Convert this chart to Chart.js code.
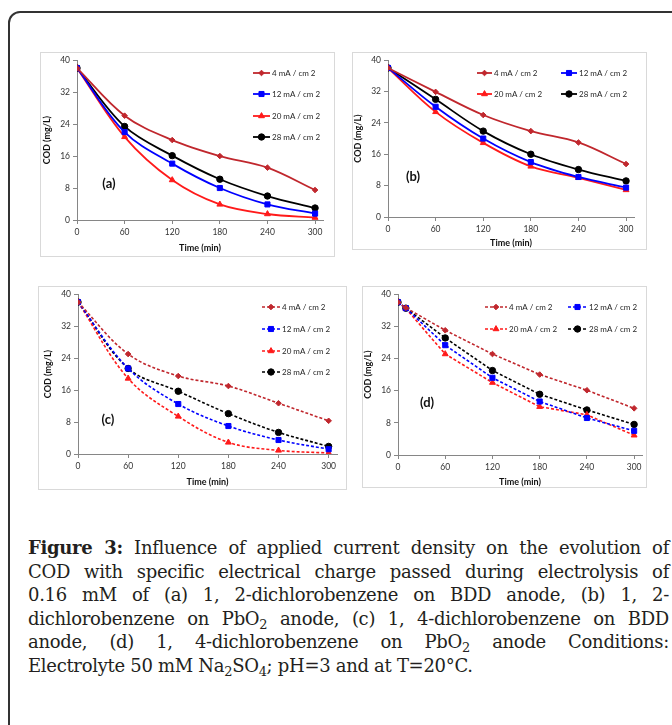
<!DOCTYPE html>
<html>
<head>
<meta charset="utf-8">
<script src="https://cdn.jsdelivr.net/npm/chart.js"></script>
<style>
  body { margin: 0; background: #fff; width: 672px; height: 725px; overflow: hidden; position: relative; }
  #frame { position: absolute; left: 8px; top: 11px; width: 720px; height: 760px; border: 2px solid #333; border-radius: 12px; }
  .box { position: absolute; border: 1px solid #d9d9d9; box-sizing: border-box; pointer-events: none; }
  canvas.plot { position: absolute; }
  #caption { position: absolute; left: 28px; top: 536px; width: 641px; font-family: "DejaVu Serif", serif; font-size: 18px; line-height: 23.5px; color: #231f20; letter-spacing: -0.3px; }
  #caption .j { text-align: justify; text-align-last: justify; white-space: nowrap; }
  #caption sub { font-size: 0.72em; vertical-align: -0.3em; line-height: 0; }
</style>
</head>
<body>
<div id="frame"></div>

<div id="caption">
  <div class="j"><b>Figure 3:</b> Influence of applied current density on the evolution of</div>
  <div class="j">COD with specific electrical charge passed during electrolysis of</div>
  <div class="j">0.16 mM of (a) 1, 2-dichlorobenzene on BDD anode, (b) 1, 2-</div>
  <div class="j">dichlorobenzene on PbO<sub>2</sub> anode, (c) 1, 4-dichlorobenzene on BDD</div>
  <div class="j">anode, (d) 1, 4-dichlorobenzene on PbO<sub>2</sub> anode Conditions:</div>
  <div>Electrolyte 50 mM Na<sub>2</sub>SO<sub>4</sub>; pH=3 and at T=20°C.</div>
</div>

<script>
// ---- data ----
const times = [0, 60, 120, 180, 240, 300];
const timesD = [0, 10, 60, 120, 180, 240, 300];
const xTicks = [0, 60, 120, 180, 240, 300];
const yTicks = [0, 8, 16, 24, 32, 40];
const seriesLabels = ['4 mA / cm 2', '12 mA / cm 2', '20 mA / cm 2', '28 mA / cm 2'];

// (a) 1,2-dichlorobenzene, BDD
const codA_4  = [38, 26.1, 20.0, 16.0, 13.1, 7.5];
const codA_12 = [38, 22.0, 14.1, 8.0, 3.9, 1.6];
const codA_20 = [38, 20.8, 10.0, 3.9, 1.5, 0.6];
const codA_28 = [38, 23.4, 16.1, 10.2, 6.0, 3.0];

// (b) 1,2-dichlorobenzene, PbO2
const codB_4  = [38, 31.9, 26.0, 21.9, 19.0, 13.5];
const codB_12 = [38, 28.1, 20.0, 14.0, 10.2, 7.5];
const codB_20 = [38, 26.8, 18.9, 12.9, 10.0, 6.9];
const codB_28 = [38, 30.0, 21.9, 16.0, 12.1, 9.2];

// (c) 1,4-dichlorobenzene, BDD
const codC_4  = [38, 25.0, 19.5, 17.0, 12.7, 8.3];
const codC_12 = [38, 21.4, 12.5, 7.0, 3.5, 1.2];
const codC_20 = [38, 18.9, 9.4, 2.9, 0.9, 0.25];
const codC_28 = [38, 21.4, 15.7, 10.1, 5.4, 1.9];

// (d) 1,4-dichlorobenzene, PbO2
const codD_4  = [38, 36.6, 31.0, 25.1, 20.0, 16.1, 11.6];
const codD_12 = [38, 36.5, 27.3, 19.2, 13.3, 9.2, 6.0];
const codD_20 = [38, 36.4, 25.1, 18.0, 12.0, 10.0, 4.9];
const codD_28 = [38, 36.5, 29.1, 21.0, 15.1, 11.2, 7.6];

// ---- styles ----
const seriesStyle = [
  { color: '#c0272d', point: 'rectRot', r: 2.8 },
  { color: '#0000ff', point: 'rect', r: 3.6 },
  { color: '#ff1a1a', point: 'triangle', r: 3.4 },
  { color: '#000000', point: 'circle', r: 3.2 }
];
const FONT = 'Lato, "Liberation Sans", sans-serif';

// panel layout in page pixels
const panels = [
  { tag: '(a)', x: times, ys: [codA_4, codA_12, codA_20, codA_28], dashed: false, tension: 0.35,
    box: { l: 40, t: 52, r: 335, b: 257 }, area: { l: 77, t: 57, r: 323, b: 220 },
    xTitlePad: 4, yTitlePad: 1.5, tagAt: [109, 184],
    legend: [[253, 270, 73], [253, 270, 94], [253, 270, 116], [253, 270, 137]] },
  { tag: '(b)', x: times, ys: [codB_4, codB_12, codB_20, codB_28], dashed: false, tension: 0.35,
    box: { l: 352, t: 52, r: 647, b: 250 }, area: { l: 388, t: 57, r: 634, b: 217 },
    xTitlePad: 1.5, yTitlePad: 0.5, tagAt: [413, 177],
    legend: [[477, 492, 73], [561, 577, 73], [477, 492, 94], [561, 577, 94]] },
  { tag: '(c)', x: times, ys: [codC_4, codC_12, codC_20, codC_28], dashed: true, tension: 0.35,
    box: { l: 38, t: 286, r: 347, b: 490 }, area: { l: 78, t: 292, r: 337, b: 454 },
    xTitlePad: 2.5, yTitlePad: 4.5, tagAt: [108, 420],
    legend: [[262, 280, 307], [262, 280, 329], [262, 280, 351], [262, 280, 372]] },
  { tag: '(d)', x: timesD, ys: [codD_4, codD_12, codD_20, codD_28], dashed: true, tension: 0,
    box: { l: 362, t: 286, r: 647, b: 488 }, area: { l: 398, t: 292, r: 645, b: 455 },
    xTitlePad: 0.5, yTitlePad: 0.5, tagAt: [427, 403],
    legend: [[485, 507, 307], [568, 587, 307], [485, 507, 329], [568, 587, 329]] }
];

// legend + panel tag drawn inside the canvas
const decoPlugin = {
  id: 'deco',
  afterDatasetsDraw(chart, args, opts) {
    const ctx = chart.ctx;
    ctx.save();
    (opts.legend || []).forEach((it, i) => {
      const ds = chart.data.datasets[i];
      ctx.strokeStyle = ds.borderColor;
      ctx.lineWidth = ds.borderWidth;
      ctx.setLineDash(ds.borderDash || []);
      ctx.beginPath();
      ctx.moveTo(it[0], it[2]);
      ctx.lineTo(it[1], it[2]);
      ctx.stroke();
      ctx.setLineDash([]);
      ctx.fillStyle = ds.pointBackgroundColor;
      ctx.strokeStyle = ds.pointBorderColor;
      ctx.lineWidth = 1;
      Chart.helpers.drawPoint(ctx, { pointStyle: ds.pointStyle, radius: ds.pointRadius, borderWidth: 1, rotation: 0 },
        (it[0] + it[1]) / 2, it[2]);
      ctx.fillStyle = '#262626';
      ctx.font = '8px ' + FONT;
      ctx.textAlign = 'left';
      ctx.textBaseline = 'middle';
      ctx.fillText(ds.label, it[1] + 2, it[2] + 0.5);
    });
    if (opts.tag) {
      ctx.fillStyle = '#111';
      ctx.font = 'bold 13px ' + FONT;
      ctx.textAlign = 'center';
      ctx.textBaseline = 'middle';
      ctx.fillText(opts.tag, opts.tagAt[0], opts.tagAt[1]);
    }
    ctx.restore();
  }
};

panels.forEach((p, k) => {
  const w = p.box.r - p.box.l, h = p.box.b - p.box.t;
  const cv = document.createElement('canvas');
  cv.className = 'plot';
  cv.style.left = p.box.l + 'px';
  cv.style.top = p.box.t + 'px';
  cv.style.width = w + 'px';
  cv.style.height = h + 'px';
  cv.width = w; cv.height = h;
  document.body.appendChild(cv);
  const border = document.createElement('div');
  border.className = 'box';
  border.style.left = p.box.l + 'px';
  border.style.top = p.box.t + 'px';
  border.style.width = w + 'px';
  border.style.height = h + 'px';
  document.body.appendChild(border);

  const datasets = p.ys.map((vals, i) => {
    const s = seriesStyle[i];
    return {
      label: seriesLabels[i],
      data: p.x.map((t, j) => ({ x: t, y: vals[j] })),
      borderColor: s.color,
      backgroundColor: s.color,
      pointBackgroundColor: s.color,
      pointBorderColor: s.color,
      pointStyle: s.point,
      pointRadius: s.r,
      pointBorderWidth: 1,
      borderWidth: p.dashed ? 1.6 : 1.8,
      borderDash: p.dashed ? [3, 2] : [],
      tension: p.tension,
      fill: false
    };
  });

  const axisCol = '#868686';
  new Chart(cv, {
    type: 'line',
    data: { datasets },
    plugins: [decoPlugin],
    options: {
      responsive: false,
      animation: false,
      devicePixelRatio: 1,
      layout: { padding: { top: p.area.t - p.box.t, right: p.box.r - p.area.r, left: 0, bottom: 0 } },
      plugins: {
        legend: { display: false },
        tooltip: { enabled: false },
        deco: {
          tag: p.tag,
          tagAt: [p.tagAt[0] - p.box.l, p.tagAt[1] - p.box.t],
          legend: p.legend.map(l => [l[0] - p.box.l, l[1] - p.box.l, l[2] - p.box.t])
        }
      },
      scales: {
        x: {
          type: 'linear', min: 0, max: 310,
          afterBuildTicks: sc => { sc.ticks = xTicks.map(v => ({ value: v })); },
          afterFit: sc => { sc.height = p.box.b - p.area.b; },
          grid: { drawOnChartArea: false, drawTicks: true, tickLength: 4, color: axisCol },
          border: { color: axisCol, width: 1 },
          ticks: { color: '#333', font: { family: FONT, size: 8.5 }, padding: 3, maxRotation: 0, autoSkip: false },
          title: { display: true, text: 'Time (min)', color: '#111', font: { family: FONT, size: 9, weight: 'bold' },
                   padding: { top: 0, bottom: p.xTitlePad } }
        },
        y: {
          type: 'linear', min: 0, max: 40,
          afterBuildTicks: sc => { sc.ticks = yTicks.map(v => ({ value: v })); },
          afterFit: sc => { sc.width = p.area.l - p.box.l; },
          grid: { drawOnChartArea: false, drawTicks: true, tickLength: 4, color: axisCol },
          border: { color: axisCol, width: 1 },
          ticks: { color: '#333', font: { family: FONT, size: 8.5 }, padding: 3 },
          title: { display: true, text: 'COD (mg/L)', color: '#111', font: { family: FONT, size: 9, weight: 'bold' },
                   padding: { top: p.yTitlePad, bottom: 0 } }
        }
      }
    }
  });
});
</script>
</body>
</html>
